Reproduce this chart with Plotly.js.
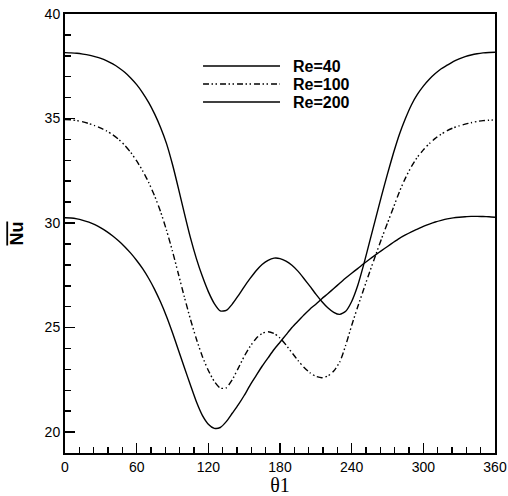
<!DOCTYPE html>
<html>
<head>
<meta charset="utf-8">
<script src="https://cdn.plot.ly/plotly-3.0.1.min.js"></script>
<style>html,body{margin:0;padding:0;background:#fff;}#chart{width:508px;height:496px;}</style>
</head>
<body>
<div id="chart"></div>
<script>
// angle (degrees)
var theta = [0,5,10,15,20,25,30,35,40,45,50,55,60,65,70,75,80,85,90,95,100,105,110,115,120,125,130,135,140,145,150,155,160,165,170,175,180,185,190,195,200,205,210,215,220,225,230,235,240,245,250,255,260,265,270,275,280,285,290,295,300,305,310,315,320,325,330,335,340,345,350,355,360];

var nuRe40 = [30.25,30.24,30.2,30.13,30.04,29.92,29.77,29.59,29.38,29.14,28.87,28.56,28.21,27.82,27.36,26.83,26.22,25.53,24.75,23.92,23.08,22.25,21.45,20.8,20.38,20.18,20.22,20.5,20.9,21.3,21.75,22.25,22.7,23.15,23.55,23.95,24.3,24.65,25.0,25.3,25.6,25.88,26.12,26.38,26.62,26.87,27.12,27.37,27.6,27.82,28.05,28.27,28.48,28.68,28.88,29.08,29.27,29.43,29.58,29.71,29.84,29.95,30.05,30.13,30.2,30.25,30.28,30.3,30.32,30.32,30.31,30.3,30.28];

var nuRe100 = [34.95,34.94,34.9,34.84,34.76,34.66,34.54,34.4,34.22,34.0,33.72,33.38,32.97,32.5,31.95,31.3,30.55,29.65,28.65,27.55,26.45,25.4,24.45,23.62,22.95,22.42,22.1,22.12,22.5,23.05,23.62,24.1,24.48,24.72,24.8,24.72,24.5,24.17,23.8,23.43,23.1,22.84,22.67,22.6,22.68,22.92,23.35,24.15,25.1,25.98,26.82,27.65,28.45,29.25,30.0,30.75,31.5,32.15,32.7,33.15,33.5,33.8,34.05,34.25,34.42,34.55,34.65,34.73,34.8,34.86,34.9,34.92,34.93];

var nuRe200 = [38.15,38.14,38.12,38.08,38.03,37.96,37.88,37.76,37.61,37.43,37.21,36.94,36.62,36.23,35.77,35.22,34.57,33.8,32.8,31.65,30.45,29.3,28.3,27.45,26.72,26.15,25.8,25.82,26.12,26.52,26.95,27.35,27.72,28.02,28.22,28.32,28.3,28.18,27.98,27.7,27.35,26.98,26.6,26.25,25.95,25.73,25.63,25.78,26.25,27.0,28.0,29.1,30.2,31.3,32.35,33.35,34.25,35.0,35.65,36.15,36.55,36.88,37.15,37.38,37.55,37.72,37.85,37.96,38.04,38.1,38.14,38.16,38.17];

var seriesNames = ["Re=40", "Re=100", "Re=200"];
var xTickVals = [0,60,120,180,240,300,360];
var yTickVals = [20,25,30,35,40];

var dashDotDot = "6px,2.5px,1.5px,2.5px,1.5px,3px";
var styles = [
  {color:"#000", width:1.4, dash:"solid"},
  {color:"#000", width:1.4, dash:dashDotDot},
  {color:"#000", width:1.4, dash:"solid"}
];
var ys = [nuRe40, nuRe100, nuRe200];

var traces = ys.map(function(y, i){
  return {x: theta, y: y, type:"scatter", mode:"lines", name: seriesNames[i],
          line: {color: styles[i].color, width: styles[i].width, dash: styles[i].dash, shape:"spline", smoothing:0.6},
          showlegend:false, hoverinfo:"skip"};
});

// custom legend (long sample lines like the reference)
var legX0 = 0.321, legX1 = 0.5, legTextX = 0.525;
var legY = [0.8815, 0.8405, 0.7995];
var shapes = [], annotations = [];
for (var i = 0; i < 3; i++) {
  shapes.push({type:"line", xref:"paper", yref:"paper", x0:legX0, x1:legX1, y0:legY[i], y1:legY[i],
               line:{color:styles[i].color, width:styles[i].width, dash:styles[i].dash}});
  annotations.push({xref:"paper", yref:"paper", x:legTextX, y:legY[i], xanchor:"left", yanchor:"middle",
                    text:"<b>"+seriesNames[i]+"</b>", showarrow:false,
                    font:{family:"Liberation Sans, Arial, sans-serif", size:16, color:"#000"}});
}

var layout = {
  width:508, height:496,
  margin:{l:65, r:13, t:14, b:43, pad:0},
  paper_bgcolor:"#fff", plot_bgcolor:"#fff",
  font:{family:"Liberation Sans, Arial, sans-serif", color:"#000", size:14},
  xaxis:{
    range:[0,360], tickvals:xTickVals, ticktext:xTickVals.map(String),
    ticks:"inside", ticklen:10, tickwidth:1.5, tickcolor:"#000",
    minor:{ticks:"inside", dtick:12, tick0:0, ticklen:6, tickwidth:1.5, tickcolor:"#000", showgrid:false},
    showline:true, linecolor:"#000", linewidth:2, mirror:true,
    showgrid:false, zeroline:false,
    tickfont:{size:14, family:"Liberation Sans, Arial, sans-serif"},
    title:{text:"θ1", font:{family:"Liberation Serif, Times New Roman, serif", size:20}, standoff:4}
  },
  yaxis:{
    range:[19,40], tickvals:yTickVals, ticktext:yTickVals.map(String),
    ticks:"inside", ticklen:10, tickwidth:1.5, tickcolor:"#000",
    minor:{ticks:"inside", dtick:1, tick0:0, ticklen:6, tickwidth:1.5, tickcolor:"#000", showgrid:false},
    showline:true, linecolor:"#000", linewidth:2, mirror:true,
    showgrid:false, zeroline:false,
    tickfont:{size:14, family:"Liberation Sans, Arial, sans-serif"},
    title:{text:"<span style=\"text-decoration:overline\"><b>Nu</b></span>", font:{family:"Liberation Sans, Arial, sans-serif", size:18}, standoff:16}
  },
  shapes: shapes,
  annotations: annotations,
  showlegend:false
};

Plotly.newPlot("chart", traces, layout, {displayModeBar:false, staticPlot:true});
</script>
</body>
</html>
